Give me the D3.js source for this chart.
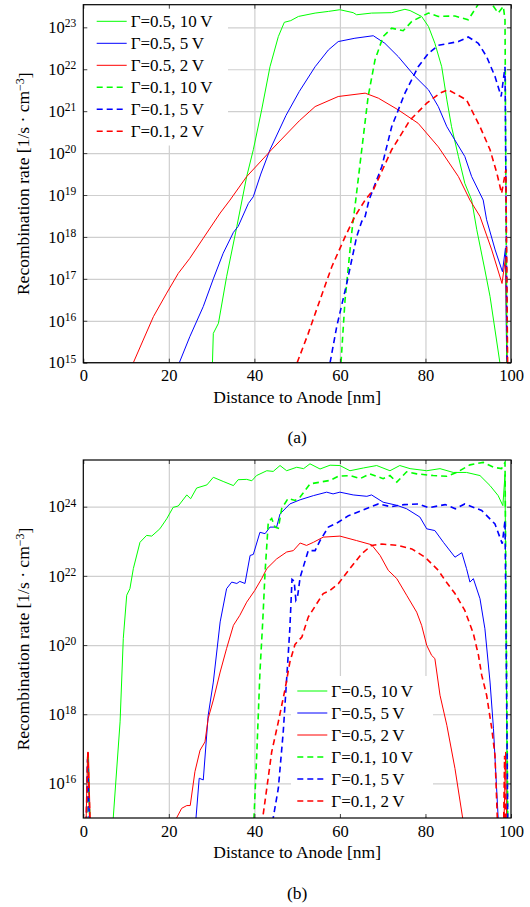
<!DOCTYPE html>
<html>
<head>
<meta charset="utf-8">
<script src="https://cdn.jsdelivr.net/npm/d3@7"></script>
<style>
  body { margin: 0; background: #fff; }
  text { font-family: "Liberation Serif", "Times New Roman", serif; fill: #000; }
</style>
</head>
<body>
<svg id="chart" width="530" height="907"></svg>
<script>
// values are [distance in nm, log10 of recombination rate]

// ---- panel (a)
const a_g05_10V = [[30.2,15.0],[30.4,15.7],[31.6,15.94],[33.5,17.05],[35.9,18.25],[38.2,19.44],[39.75,20.08],[41.7,21.03],[43.65,22.06],[45.6,22.78],[47.0,23.12],[48.5,23.16],[50.3,23.26],[54.2,23.34],[57.3,23.38],[60.0,23.42],[63.1,23.35],[63.9,23.30],[67.4,23.34],[72.1,23.35],[75.2,23.43],[76.4,23.40],[79.1,23.26],[80.7,23.02],[82.2,22.62],[83.8,22.06],[85.0,21.27],[86.1,20.63],[87.7,19.92],[89.2,19.28],[90.8,18.88],[92.0,18.17],[93.9,17.21],[95.1,16.58],[97.4,15.0],[97.6,14.0]];
const a_g05_5V = [[22.45,15.0],[24.9,15.62],[28.05,16.34],[30.4,17.0],[32.7,17.61],[35.1,18.11],[36.2,18.25],[38.6,18.80],[39.75,18.96],[41.5,19.5],[43.65,20.08],[47.4,20.9],[50.5,21.47],[54.2,22.06],[57.3,22.46],[59.6,22.66],[63.5,22.74],[67.8,22.80],[70.5,22.62],[73.65,22.30],[77.55,21.83],[80.7,21.51],[83.0,21.11],[85.0,20.63],[87.3,20.24],[89.2,19.92],[90.8,19.44],[93.5,18.88],[94.3,18.41],[96.3,17.69],[98.0,17.17],[98.7,17.73],[99.1,14.0]];
const a_g05_2V = [[11.7,15.0],[14.0,15.54],[16.4,16.10],[19.5,16.66],[22.2,17.13],[24.9,17.49],[28.05,17.97],[32.0,18.57],[34.3,18.88],[38.2,19.44],[44.0,20.08],[50.5,20.77],[54.2,21.11],[59.6,21.35],[65.9,21.43],[69.0,21.31],[73.65,21.03],[78.3,20.71],[83.0,20.15],[87.7,19.44],[90.4,18.88],[92.75,18.49],[95.5,17.69],[97.9,16.89],[98.75,17.53],[99.2,14.0]];
const a_g01_10V = [[60.25,15.0],[61.2,16.5],[62.75,18.09],[63.7,18.88],[65.1,20.08],[66.6,21.35],[68.2,22.22],[70.1,22.78],[72.1,22.98],[74.8,22.92],[76.8,23.14],[79.1,23.26],[80.7,23.34],[83.0,23.26],[86.9,23.27],[90.0,23.18],[92.4,23.56],[95.5,23.56],[97.0,23.34],[98.2,23.50],[98.6,23.18],[99.1,14.0]];
const a_g01_5V = [[57.7,15.0],[59.25,15.86],[61.6,16.89],[63.9,18.0],[65.1,18.37],[65.9,18.49],[66.8,18.88],[69.8,19.68],[72.1,20.63],[75.2,21.43],[78.3,22.06],[80.7,22.38],[83.0,22.57],[87.7,22.66],[90.0,22.77],[92.35,22.62],[94.3,22.30],[96.25,21.83],[97.7,21.35],[98.6,22.06],[99.2,14.0]];
const a_g01_2V = [[50.0,15.0],[52.6,15.70],[55.35,16.5],[58.1,17.29],[61.2,18.0],[63.5,18.49],[65.9,18.88],[67.8,19.12],[72.1,20.08],[76.4,20.79],[80.3,21.19],[83.4,21.43],[85.3,21.51],[89.6,21.27],[92.75,20.63],[95.1,20.08],[96.7,19.52],[97.8,19.04],[98.8,19.6],[99.3,14.0]];

// ---- panel (b)
const b_g05_10V = [[7.0,15.0],[8.6,17.78],[9.35,20.19],[10.15,21.44],[10.9,21.63],[11.7,22.21],[13.25,22.97],[14.8,23.17],[16.0,23.15],[17.9,23.36],[19.5,23.65],[21.0,23.98],[22.2,24.02],[24.2,24.34],[25.1,24.23],[26.5,24.54],[28.9,24.63],[30.4,24.85],[32.7,24.73],[35.1,24.61],[36.2,24.78],[38.2,24.79],[39.4,24.75],[40.5,24.90],[42.9,25.04],[44.4,25.02],[46.0,25.19],[47.55,25.04],[49.9,25.14],[51.5,25.1],[53.0,25.24],[55.35,25.09],[57.7,25.20],[60.0,25.19],[62.35,25.04],[65.5,25.12],[68.6,25.19],[71.7,25.04],[74.0,25.19],[76.4,25.10],[80.3,25.04],[83.4,25.10],[86.5,24.99],[89.6,24.99],[92.75,24.90],[95.1,24.61],[97.0,24.32],[98.1,24.03],[98.6,24.93],[99.2,14.0]];
const b_g05_5V = [[26.35,15.0],[27.1,16.15],[28.05,16.10],[29.2,17.97],[30.4,18.93],[32.0,20.67],[33.5,21.63],[34.7,21.82],[35.9,21.78],[36.6,21.84],[37.8,21.78],[39.0,22.59],[39.75,22.62],[41.3,23.26],[42.5,23.22],[43.65,23.41],[45.2,23.41],[46.0,23.79],[48.3,24.08],[50.7,24.2],[53.8,24.32],[56.9,24.42],[58.4,24.37],[60.0,24.42],[63.1,24.34],[66.3,24.30],[67.4,24.34],[70.1,24.13],[73.3,24.04],[75.6,23.94],[78.7,23.70],[80.3,23.36],[82.2,23.31],[84.2,22.97],[86.9,22.54],[88.5,22.67],[89.6,22.21],[90.4,21.82],[91.2,21.92],[92.75,21.34],[93.9,20.47],[95.1,18.93],[95.9,17.59],[97.0,15.0],[97.1,14.0]];
const b_g05_2V = [[0.5,14.0],[1.0,16.9],[1.2,16.9],[1.8,14.0],[21.6,14.0],[21.8,15.0],[23.0,15.28],[24.2,15.36],[25.0,15.36],[26.1,16.34],[27.3,16.96],[28.45,17.20],[29.2,17.88],[30.4,18.41],[32.0,19.22],[33.5,19.90],[35.1,20.57],[36.6,20.86],[38.2,21.24],[40.1,21.58],[41.7,21.92],[42.9,22.21],[45.2,22.49],[47.55,22.69],[49.1,22.73],[50.7,22.95],[52.2,22.88],[53.8,22.97],[56.1,23.12],[60.0,23.15],[63.9,23.02],[67.4,22.90],[69.4,22.59],[71.3,22.16],[73.3,21.92],[75.6,21.44],[77.95,20.95],[79.1,20.57],[80.3,19.99],[81.45,19.70],[82.2,19.61],[83.4,18.55],[85.0,17.68],[86.9,16.43],[88.7,15.0],[89.0,14.0],[98.2,14.0],[98.75,16.91],[99.1,14.0]];
const b_g01_10V = [[0.6,14.0],[1.1,16.8],[1.7,14.0],[39.8,14.0],[39.9,15.0],[40.55,16.82],[41.3,19.22],[41.95,20.67],[42.5,22.11],[43.25,23.55],[44.05,23.66],[44.8,23.41],[45.6,23.38],[46.4,23.95],[47.9,24.24],[49.5,24.18],[50.7,24.28],[53.0,24.66],[55.35,24.71],[57.7,24.76],[59.6,24.88],[62.35,24.90],[64.7,24.81],[67.0,24.95],[70.1,24.81],[71.7,24.9],[73.3,24.71],[75.6,25.01],[77.95,24.95],[81.8,24.9],[85.0,24.88],[87.3,24.99],[90.4,25.21],[93.5,25.28],[95.9,25.14],[97.8,25.10],[98.6,25.28],[99.3,14.0]];
const b_g01_5V = [[0.6,14.0],[1.0,16.7],[1.6,14.0],[44.3,14.0],[44.4,15.0],[45.6,15.86],[46.75,17.49],[47.9,19.70],[48.3,20.5],[48.8,21.9],[49.3,21.85],[49.7,21.3],[50.1,21.4],[50.7,21.96],[52.6,22.73],[54.2,22.73],[55.35,23.02],[57.3,23.41],[59.6,23.55],[62.0,23.74],[65.1,23.89],[69.0,24.08],[71.9,24.00],[75.0,24.06],[78.3,24.08],[80.7,23.97],[84.6,24.06],[87.0,23.94],[89.2,24.08],[93.15,23.89],[96.25,23.50],[97.95,22.93],[98.6,23.60],[99.3,14.0]];
const b_g01_2V = [[0.5,14.0],[1.05,16.9],[1.8,14.0],[41.8,14.0],[41.95,15.0],[42.9,15.86],[44.05,16.91],[45.6,17.78],[47.2,18.74],[48.3,19.51],[49.5,20.02],[51.1,20.23],[52.6,20.81],[54.6,21.20],[56.1,21.49],[57.7,21.58],[59.6,21.77],[62.0,22.16],[65.1,22.64],[67.4,22.88],[69.8,22.92],[73.65,22.88],[76.8,22.78],[79.9,22.54],[83.0,22.16],[84.6,21.87],[86.9,21.49],[89.2,21.0],[91.2,20.33],[92.4,19.7],[93.15,19.13],[94.3,18.55],[95.5,17.59],[96.25,16.82],[96.8,15.0],[97.0,14.0],[98.2,14.0],[98.5,16.8],[98.8,14.0]];

const seriesNames = ["\u0393=0.5, 10\u2009V", "\u0393=0.5, 5\u2009V", "\u0393=0.5, 2\u2009V",
                     "\u0393=0.1, 10\u2009V", "\u0393=0.1, 5\u2009V", "\u0393=0.1, 2\u2009V"];
const seriesColors = ["#00ff00", "#0000ff", "#ff0000", "#00ff00", "#0000ff", "#ff0000"];
const xTicks = [0, 20, 40, 60, 80, 100];
const yTicksA = [15, 16, 17, 18, 19, 20, 21, 22, 23];
const yTicksB = [16, 18, 20, 22, 24];

const svg = d3.select("#chart");
const left = 83.3, right = 511;
const x = d3.scaleLinear().domain([0, 100]).range([left, right]);

function panel(o) {
  const y = d3.scaleLog().domain([1e15, Math.pow(10, o.yMax)]).range([o.bottom, o.top]);
  const g = svg.append("g");
  const h = o.bottom - o.top, w = right - left;

  // grid
  g.append("g").attr("transform", `translate(0,${o.bottom})`)
    .call(d3.axisBottom(x).tickValues(xTicks.slice(1, -1)).tickSize(-h).tickFormat(""))
    .call(s => s.select(".domain").remove())
    .selectAll("line").attr("stroke", "#cfcfcf").attr("stroke-width", 1.2);
  g.append("g").attr("transform", `translate(${left},0)`)
    .call(d3.axisLeft(y).tickValues(o.yTicks.map(e => Math.pow(10, e))).tickSize(-w).tickFormat(""))
    .call(s => s.select(".domain").remove())
    .selectAll("line").attr("stroke", "#cfcfcf").attr("stroke-width", 1.2);

  // curves
  const clipId = "clip" + o.id;
  svg.append("clipPath").attr("id", clipId).append("rect")
    .attr("x", left).attr("y", o.top).attr("width", w).attr("height", h);
  const line = d3.line().x(d => x(d[0])).y(d => y(Math.pow(10, d[1])));
  const lines = g.append("g").attr("clip-path", `url(#${clipId})`);
  o.series.forEach((s, i) => {
    lines.append("path").datum(s)
      .attr("d", line)
      .attr("fill", "none")
      .attr("stroke", seriesColors[i])
      .attr("stroke-width", i < 3 ? 1 : 1.6)
      .attr("stroke-dasharray", i < 3 ? null : "6,4");
  });

  // legend
  const lg = g.append("g");
  lg.append("rect").attr("x", o.leg[0]).attr("y", o.leg[1]).attr("width", o.leg[2]).attr("height", o.leg[3])
    .attr("fill", "#fff");
  seriesNames.forEach((name, i) => {
    const ly = o.legY + i * 22;
    lg.append("line").attr("x1", o.legX).attr("x2", o.legX + 30).attr("y1", ly).attr("y2", ly)
      .attr("stroke", seriesColors[i]).attr("stroke-width", i < 3 ? 1 : 1.6)
      .attr("stroke-dasharray", i < 3 ? null : "6,4");
    lg.append("text").attr("x", o.legX + 34).attr("y", ly + 5.5)
      .attr("font-size", 17).text(name);
  });

  // ticks (inside) and labels
  const tickStyle = s => {
    s.select(".domain").remove();
    s.selectAll(".tick line").attr("stroke", "#444");
  };
  g.append("g").attr("transform", `translate(0,${o.bottom})`)
    .call(d3.axisBottom(x).tickValues(xTicks).tickSize(-4).tickPadding(7))
    .call(tickStyle)
    .selectAll("text").attr("font-size", 16.5).attr("font-family", "Liberation Serif");
  g.append("g").attr("transform", `translate(0,${o.top})`)
    .call(d3.axisTop(x).tickValues(xTicks).tickSize(-4).tickFormat(""))
    .call(tickStyle);
  const ya = g.append("g").attr("transform", `translate(${left},0)`)
    .call(d3.axisLeft(y).tickValues(o.yTicks.map(e => Math.pow(10, e))).tickSize(-4).tickPadding(7))
    .call(tickStyle);
  ya.selectAll(".tick text").attr("font-size", 16.5).attr("font-family", "Liberation Serif")
    .each(function(d) {
      const t = d3.select(this).text("10");
      t.append("tspan").attr("dy", "-0.5em").attr("font-size", 11.5).text(Math.round(Math.log10(d)));
    });
  g.append("g").attr("transform", `translate(${right},0)`)
    .call(d3.axisRight(y).tickValues(o.yTicks.map(e => Math.pow(10, e))).tickSize(-4).tickFormat(""))
    .call(tickStyle);

  g.append("rect").attr("x", left).attr("y", o.top).attr("width", w).attr("height", h)
    .attr("fill", "none").attr("stroke", "#000").attr("stroke-width", 1.2);

  // axis labels
  g.append("text").attr("x", (left + right) / 2).attr("y", o.bottom + 40)
    .attr("text-anchor", "middle").attr("font-size", 17.5).text("Distance to Anode [nm]");
  const yl = g.append("text")
    .attr("transform", `translate(29,${(o.top + o.bottom) / 2}) rotate(-90)`)
    .attr("text-anchor", "middle").attr("font-size", 17.5);
  yl.append("tspan").text("Recombination rate [1/s \u00b7 cm");
  yl.append("tspan").attr("dy", "-0.45em").attr("font-size", 12).text("\u22123");
  yl.append("tspan").attr("dy", "0.45em").text("]");

  g.append("text").attr("x", (left + right) / 2).attr("y", o.capY)
    .attr("text-anchor", "middle").attr("font-size", 17.5).text(o.caption);
}

panel({
  id: "a", top: 4.7, bottom: 362.7, yMax: 23.54, yTicks: yTicksA,
  series: [a_g05_10V, a_g05_5V, a_g05_2V, a_g01_10V, a_g01_5V, a_g01_2V],
  leg: [84, 5.5, 144, 140], legX: 96.7, legY: 21.3, capY: 443, caption: "(a)"
});
panel({
  id: "b", top: 460, bottom: 818, yMax: 25.35, yTicks: yTicksB,
  series: [b_g05_10V, b_g05_5V, b_g05_2V, b_g01_10V, b_g01_5V, b_g01_2V],
  leg: [291, 676, 142, 140], legX: 297.3, legY: 691, capY: 899, caption: "(b)"
});
</script>
</body>
</html>
